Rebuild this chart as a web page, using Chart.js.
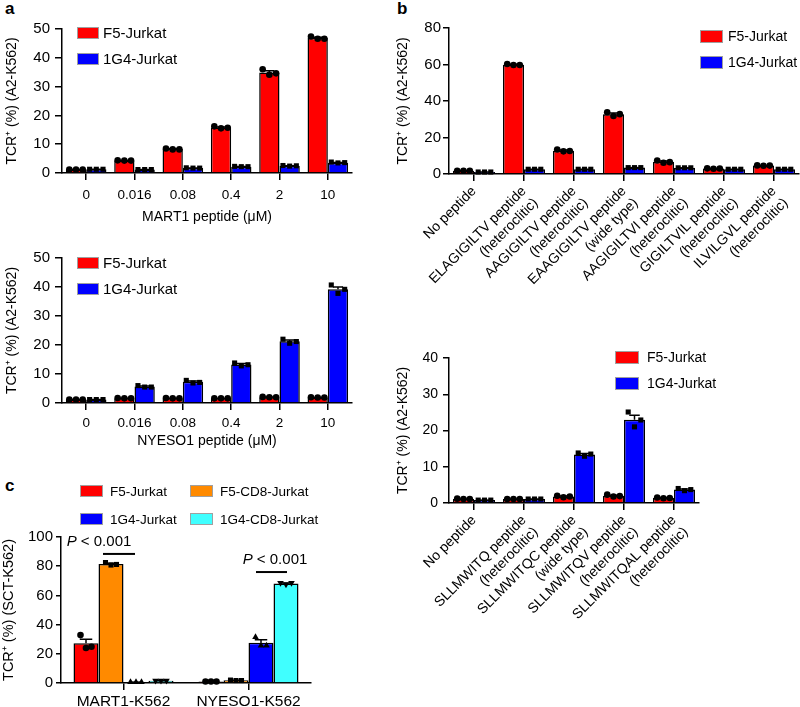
<!DOCTYPE html>
<html>
<head>
<meta charset="utf-8">
<script src="https://cdn.jsdelivr.net/npm/chart.js@4.4.0/dist/chart.umd.min.js"></script>
<style>
  body { margin: 0; background: #fff; width: 800px; height: 707px; position: relative; overflow: hidden;
         font-family: "Liberation Sans", Arial, Helvetica, sans-serif; }
  canvas { position: absolute; }
  .tag { position: absolute; font-weight: bold; font-size: 17px; line-height: 17px; }
</style>
</head>
<body>
<div class="tag" style="left:5px;top:0px">a</div>
<div class="tag" style="left:397px;top:0px">b</div>
<div class="tag" style="left:5px;top:477px">c</div>

<canvas id="martChart" width="372" height="230" style="left:0;top:0"></canvas>
<canvas id="nyesoChart" width="372" height="222" style="left:0;top:232px"></canvas>
<canvas id="mutMartChart" width="409" height="300" style="left:391px;top:0"></canvas>
<canvas id="mutNyesoChart" width="409" height="300" style="left:391px;top:330px"></canvas>
<canvas id="cd8Chart" width="330" height="237" style="left:0;top:470px"></canvas>

<script>
// TCR+ staining data

// panel a - peptide titration
const doses = ['0', '0.016', '0.08', '0.4', '2', '10'];
const martF5 = [1.2, 4.3, 8.3, 15.8, 34.9, 46.9];
const martF5Reps = [[1.2, 1.2, 1.2], [4.4, 4.3, 4.3], [8.5, 8.2, 8.2], [16.2, 15.5, 15.7], [36.0, 34.1, 34.6], [47.4, 46.6, 46.6]];
const martG4 = [1.3, 1.2, 1.7, 2.2, 2.5, 3.6];
const martG4Reps = [[1.3, 1.3, 1.3], [1.2, 1.2, 1.2], [1.8, 1.7, 1.7], [2.3, 2.2, 2.2], [2.6, 2.4, 2.5], [3.8, 3.5, 3.6]];

const nyF5 = [1.2, 1.6, 1.6, 1.6, 2.0, 1.9];
const nyF5Reps = [[1.2, 1.2, 1.2], [1.7, 1.6, 1.6], [1.7, 1.6, 1.6], [1.6, 1.6, 1.6], [2.1, 2.0, 2.0], [2.0, 1.9, 1.9]];
const nyG4 = [1.2, 5.7, 7.3, 13.3, 21.3, 39.2];
const nyG4Reps = [[1.2, 1.2, 1.2], [6.0, 5.5, 5.5], [7.8, 6.9, 7.1], [13.8, 12.8, 13.2], [22.0, 20.6, 21.2], [40.7, 37.8, 39.2]];

// panel b - altered peptides
const martPeptides = [
    'No peptide',
    ['ELAGIGILTV peptide', '(heteroclitic)'],
    ['AAGIGILTV peptide', '(heteroclitic)'],
    ['EAAGIGILTV peptide', '(wide type)'],
    ['AAGIGILTVI peptide', '(heteroclitic)'],
    ['GIGILTVIL peptide', '(heteroclitic)'],
    ['ILVILGVL peptide', '(heteroclitic)']
];
const mutMartF5 = [1.8, 59.9, 12.8, 32.8, 6.7, 3.0, 4.6];
const mutMartF5Reps = [[1.8, 1.8, 1.8], [60.3, 59.7, 59.7], [13.4, 12.4, 12.6], [33.8, 31.8, 32.8], [7.4, 6.2, 6.5], [3.1, 2.9, 3.0], [4.7, 4.5, 4.6]];
const mutMartG4 = [1.1, 2.6, 2.6, 3.5, 3.4, 2.6, 2.6];
const mutMartG4Reps = [[1.1, 1.1, 1.1], [2.6, 2.6, 2.6], [2.6, 2.6, 2.6], [3.5, 3.5, 3.5], [3.4, 3.4, 3.4], [2.6, 2.6, 2.6], [2.6, 2.6, 2.6]];

const nyesoPeptides = [
    'No peptide',
    ['SLLMWITQ peptide', '(heteroclitic)'],
    ['SLLMWITQC peptide', '(wide type)'],
    ['SLLMWITQV peptide', '(heteroclitic)'],
    ['SLLMWITQAL peptide', '(heteroclitic)']
];
const mutNyF5 = [1.1, 1.1, 1.8, 2.0, 1.4];
const mutNyF5Reps = [[1.2, 1.1, 1.1], [1.1, 1.1, 1.1], [2.0, 1.6, 1.8], [2.3, 1.8, 1.9], [1.5, 1.3, 1.4]];
const mutNyG4 = [0.8, 1.1, 13.4, 23.0, 3.7];
const mutNyG4Reps = [[0.8, 0.8, 0.8], [1.1, 1.1, 1.1], [13.8, 12.9, 13.5], [25.1, 21.0, 22.9], [4.0, 3.4, 3.7]];

// panel c - CD8 co-receptor
const targets = ['MART1-K562', 'NYESO1-K562'];
const cdF5 = [27.2, 1.0];
const cdF5Reps = [[32.8, 24.0, 24.8], [1.0, 1.0, 1.0]];
const cdF5CD8 = [81.5, 1.8];
const cdF5CD8Reps = [[82.5, 80.8, 81.2], [2.0, 1.7, 1.7]];
const cdG4 = [0.6, 27.6];
const cdG4Reps = [[0.6, 0.6, 0.6], [31.5, 25.6, 25.6]];
const cdG4CD8 = [1.6, 68.2];
const cdG4CD8Reps = [[1.6, 1.6, 1.6], [68.6, 67.5, 68.5]];

const RED = '#ff0000', BLUE = '#0000ff', ORANGE = '#ff8a00', CYAN = '#40ffff';
const FONT = '"Liberation Sans", Arial, Helvetica, sans-serif';

function sem(arr) {
    const m = arr.reduce((s, v) => s + v, 0) / arr.length;
    const v = arr.reduce((s, x) => s + (x - m) * (x - m), 0) / (arr.length - 1);
    return Math.sqrt(v / arr.length);
}

// pixel for a position given in category units (0 = centre of first category)
function catPx(scale, v) {
    const w = scale.width / scale.getLabels().length;
    return scale.getPixelForValue(0) + v * w;
}

// error bars (mean + SEM, upward) and replicate dots on top of every bar
const replicates = {
    id: 'replicates',
    afterDatasetsDraw(chart, args, opts) {
        const ctx = chart.ctx, y = chart.scales.y;
        ctx.save();
        chart.data.datasets.forEach((ds, d) => {
            const meta = chart.getDatasetMeta(d);
            meta.data.forEach((bar, i) => {
                const top = y.getPixelForValue(ds.data[i] + sem(ds.reps[i]));
                const half = bar.width * 0.25;
                ctx.strokeStyle = '#000';
                ctx.lineWidth = 1.5;
                ctx.beginPath();
                ctx.moveTo(bar.x, bar.y);
                ctx.lineTo(bar.x, top);
                ctx.moveTo(bar.x - half, top);
                ctx.lineTo(bar.x + half, top);
                ctx.stroke();
            });
        });
        chart.data.datasets.forEach((ds, d) => {
            const meta = chart.getDatasetMeta(d);
            meta.data.forEach((bar, i) => {
                const r = ds.reps[i];
                r.forEach((v, j) => {
                    const px = bar.x + (j - (r.length - 1) / 2) * opts.jitter * bar.width;
                    ctx.fillStyle = '#000';
                    ctx.strokeStyle = '#000';
                    Chart.helpers.drawPoint(ctx, {
                        pointStyle: ds.point, rotation: ds.rot || 0,
                        radius: ds.point === 'rect' ? 3.6 : (ds.point === 'triangle' ? 3.8 : 3.3),
                        borderWidth: 0
                    }, px, y.getPixelForValue(v));
                });
            });
        });
        ctx.restore();
    }
};

// swatch legend
const boxLegend = {
    id: 'boxLegend',
    afterDraw(chart, args, opts) {
        const ctx = chart.ctx;
        ctx.save();
        ctx.font = opts.size + 'px ' + FONT;
        ctx.textBaseline = 'middle';
        chart.data.datasets.forEach((it, k) => {
            const col = k % opts.cols, row = Math.floor(k / opts.cols);
            const x = opts.x + col * opts.dx, y = opts.y + row * opts.dy;
            ctx.fillStyle = it.backgroundColor;
            ctx.fillRect(x, y, opts.w, opts.h);
            ctx.strokeStyle = '#a0a0a0';
            ctx.lineWidth = 1;
            ctx.strokeRect(x + 0.5, y + 0.5, opts.w - 1, opts.h - 1);
            ctx.fillStyle = '#000';
            ctx.fillText(it.label, x + opts.w + opts.gap, y + opts.h / 2 + 1);
        });
        ctx.restore();
    }
};

// significance lines for panel c
const pMarks = {
    id: 'pMarks',
    afterDraw(chart, args, opts) {
        if (!opts.marks) return;
        const ctx = chart.ctx, x = chart.scales.x, y = chart.scales.y;
        ctx.save();
        ctx.strokeStyle = '#000';
        ctx.lineWidth = 2;
        ctx.fillStyle = '#000';
        ctx.textBaseline = 'middle';
        opts.marks.forEach(m => {
            const yy = y.getPixelForValue(m.at);
            ctx.beginPath();
            ctx.moveTo(catPx(x, m.from), yy);
            ctx.lineTo(catPx(x, m.to), yy);
            ctx.stroke();
            const italic = 'italic 15px ' + FONT, plain = '15px ' + FONT;
            ctx.font = italic;
            const wP = ctx.measureText('P').width;
            ctx.font = plain;
            const rest = ' < 0.001';
            const wR = ctx.measureText(rest).width;
            const tx = catPx(x, m.textX) - (wP + wR) / 2;
            const ty = y.getPixelForValue(m.textY);
            ctx.font = italic;
            ctx.fillText('P', tx, ty);
            ctx.font = plain;
            ctx.fillText(rest, tx + wP, ty);
        });
        ctx.restore();
    }
};

function barPanel(id, o) {
    const datasets = o.series.map(s => ({
        label: s.name, data: s.values, reps: s.reps, point: s.point, rot: s.rot,
        backgroundColor: s.color, borderColor: '#000', borderWidth: 1.5,
        barPercentage: 1, categoryPercentage: o.groupWidth
    }));

    new Chart(document.getElementById(id), {
        type: 'bar',
        data: { labels: o.labels, datasets: datasets },
        options: {
            responsive: false,
            animation: false,
            layout: { padding: o.padding },
            plugins: {
                legend: { display: false },
                tooltip: { enabled: false },
                boxLegend: o.legend,
                replicates: { jitter: o.jitter },
                pMarks: { marks: o.marks || null }
            },
            scales: {
                x: {
                    grid: { offset: false, drawOnChartArea: false, tickLength: 7, color: '#000', lineWidth: 1.5 },
                    border: { color: '#000', width: 1.5 },
                    ticks: {
                        color: '#000', font: { family: FONT, size: o.xFont }, padding: o.xPad,
                        autoSkip: false, maxRotation: o.rotation, minRotation: o.rotation
                    },
                    title: {
                        display: !!o.xTitle, text: o.xTitle, color: '#000',
                        font: { family: FONT, size: 14 }, padding: { top: 4, bottom: 4 }
                    },
                    afterFit(scale) { scale.height = o.xh; }
                },
                y: {
                    min: 0, max: o.yMax,
                    grid: { drawOnChartArea: false, tickLength: o.yTick, color: '#000', lineWidth: 1.5 },
                    border: { color: '#000', width: 1.5 },
                    ticks: { stepSize: o.yStep, color: '#000', font: { family: FONT, size: o.yFont }, padding: o.yPad },
                    title: {
                        display: true, text: o.yTitle, color: '#000',
                        font: { family: FONT, size: o.yTitleSize || 14 }, padding: { top: o.yTitlePad, bottom: 0 }
                    },
                    afterFit(scale) { scale.width = o.yw; }
                }
            }
        },
        plugins: [replicates, boxLegend, pMarks]
    });
}

const twoLegend = (x, y, w, h, gap, size) => ({ x, y, w, h, gap, size, cols: 1, dx: 0, dy: 26 });

barPanel('martChart', {
    labels: doses, groupWidth: 0.84, jitter: 0.33, rotation: 0,
    series: [
        { name: 'F5-Jurkat', color: RED, values: martF5, reps: martF5Reps, point: 'circle' },
        { name: '1G4-Jurkat', color: BLUE, values: martG4, reps: martG4Reps, point: 'rect' }
    ],
    yMax: 50, yStep: 10, yTitle: 'TCR\u207A (%) (A2-K562)', xTitle: 'MART1 peptide (\u03BCM)',
    padding: { top: 29, right: 20, left: 0, bottom: 0 }, yw: 62, xh: 57,
    xFont: 13.5, xPad: 7, yFont: 15, yPad: 5, yTick: 7, yTitlePad: 4,
    legend: twoLegend(77, 27, 22, 12, 4, 15)
});

barPanel('nyesoChart', {
    labels: doses, groupWidth: 0.84, jitter: 0.33, rotation: 0,
    series: [
        { name: 'F5-Jurkat', color: RED, values: nyF5, reps: nyF5Reps, point: 'circle' },
        { name: '1G4-Jurkat', color: BLUE, values: nyG4, reps: nyG4Reps, point: 'rect' }
    ],
    yMax: 50, yStep: 10, yTitle: 'TCR\u207A (%) (A2-K562)', xTitle: 'NYESO1 peptide (\u03BCM)',
    padding: { top: 26, right: 20, left: 0, bottom: 0 }, yw: 62, xh: 51,
    xFont: 13.5, xPad: 5, yFont: 15, yPad: 5, yTick: 7, yTitlePad: 4,
    legend: twoLegend(77, 25, 22, 12, 4, 15)
});

barPanel('mutMartChart', {
    labels: martPeptides, groupWidth: 0.84, jitter: 0.3, rotation: 45,
    series: [
        { name: 'F5-Jurkat', color: RED, values: mutMartF5, reps: mutMartF5Reps, point: 'circle' },
        { name: '1G4-Jurkat', color: BLUE, values: mutMartG4, reps: mutMartG4Reps, point: 'rect' }
    ],
    yMax: 80, yStep: 20, yTitle: 'TCR\u207A (%) (A2-K562)', xTitle: '',
    padding: { top: 28, right: 1, left: 0, bottom: 0 }, yw: 58, xh: 126,
    xFont: 14, xPad: 2, yFont: 15, yPad: 2, yTick: 6, yTitlePad: 4,
    legend: twoLegend(309, 30, 23, 13, 5, 14)
});

barPanel('mutNyesoChart', {
    labels: nyesoPeptides, groupWidth: 0.84, jitter: 0.3, rotation: 45,
    series: [
        { name: 'F5-Jurkat', color: RED, values: mutNyF5, reps: mutNyF5Reps, point: 'circle' },
        { name: '1G4-Jurkat', color: BLUE, values: mutNyG4, reps: mutNyG4Reps, point: 'rect' }
    ],
    yMax: 40, yStep: 10, yTitle: 'TCR\u207A (%) (A2-K562)', xTitle: '',
    padding: { top: 28, right: 101, left: 0, bottom: 0 }, yw: 58, xh: 127,
    xFont: 14, xPad: 2, yFont: 14, yPad: 5, yTick: 6, yTitlePad: 4,
    legend: twoLegend(224, 21, 24, 13, 8, 14)
});

barPanel('cd8Chart', {
    labels: targets, groupWidth: 0.8, jitter: 0.22, rotation: 0,
    series: [
        { name: 'F5-Jurkat', color: RED, values: cdF5, reps: cdF5Reps, point: 'circle' },
        { name: 'F5-CD8-Jurkat', color: ORANGE, values: cdF5CD8, reps: cdF5CD8Reps, point: 'rect' },
        { name: '1G4-Jurkat', color: BLUE, values: cdG4, reps: cdG4Reps, point: 'triangle' },
        { name: '1G4-CD8-Jurkat', color: CYAN, values: cdG4CD8, reps: cdG4CD8Reps, point: 'triangle', rot: 180 }
    ],
    yMax: 100, yStep: 20, yTitle: 'TCR\u207A (%) (SCT-K562)', xTitle: '',
    padding: { top: 67, right: 19, left: 0, bottom: 0 }, yw: 61, xh: 24,
    xFont: 15.5, xPad: 2, yFont: 15, yPad: 3, yTick: 5, yTitlePad: 0, yTitleSize: 14.5,
    legend: { x: 80, y: 15, w: 23, h: 12, gap: 7, size: 13.5, cols: 2, dx: 110, dy: 28 },
    marks: [
        { from: -0.164, to: 0.092, at: 88.4, textX: -0.196, textY: 96.6 },
        { from: 1.06, to: 1.308, at: 76, textX: 1.212, textY: 84.2 }
    ]
});
</script>
</body>
</html>
